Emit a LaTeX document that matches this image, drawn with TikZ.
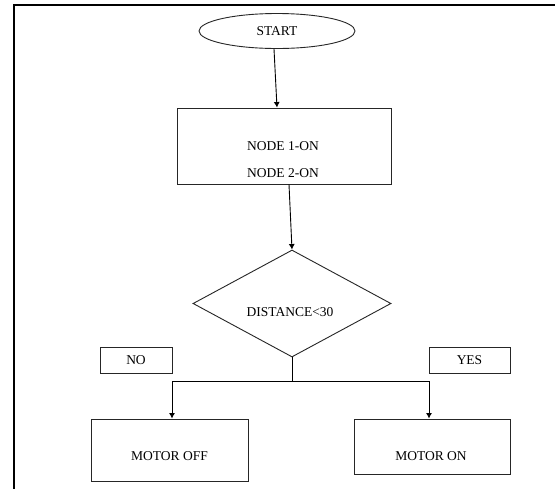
\documentclass[tikz,border=0pt]{standalone}
\usepackage{fontspec}
\setmainfont{Liberation Serif}
\usetikzlibrary{shapes.geometric,arrows.meta}
\begin{document}
\begin{tikzpicture}[x=1pt,y=-1pt,
  shp/.style={draw=black!85,line width=0.9pt,inner sep=0pt},
  box/.style={shp,rectangle},
  txt/.style={font=\fontsize{13.5}{27}\selectfont,inner sep=0pt,align=center},
  arr/.style={draw=black,line width=0.9pt,-{Latex[length=5.5pt,width=6pt]}},
  ln/.style={draw=black,line width=0.9pt}]
\useasboundingbox (0,0) rectangle (555,488);
\clip (0,0) rectangle (555,488);
\fill[white] (0,0) rectangle (555,488);
\draw[line width=1.8pt] (14,600) -- (14,5) -- (700,5);
% start
\node[shp,ellipse,minimum width=156pt,minimum height=35pt,txt] (st) at (277,31) {START};
% node box
\node[box,minimum width=214pt,minimum height=76pt] (n1) at (284,146) {};
\node[txt] (n1t) at (283,160) {NODE 1-ON\\NODE 2-ON};
% diamond
\node[shp,diamond,minimum width=198pt,minimum height=107pt] (d) at (292,303.5) {};
\node[txt] (dt) at (290,312) {DISTANCE<30};
% labels
\node[box,minimum width=72pt,minimum height=26pt,txt] (no) at (136,360) {NO};
\node[box,minimum width=81pt,minimum height=26pt,txt] (yes) at (469.5,360) {YES};
% outputs
\node[box,minimum width=157pt,minimum height=62pt] (off) at (169.5,450) {};
\node[txt] (offt) at (169.5,456) {MOTOR OFF};
\node[box,minimum width=156pt,minimum height=55pt] (on) at (432,446.5) {};
\node[txt] (ont) at (431,456) {MOTOR ON};
% connectors
\draw[arr] ([xshift=-3pt]st.south) -- ([xshift=-7pt]n1.north);
\draw[arr] ([xshift=5pt]n1.south) -- (d.north);
\coordinate (j) at (292,381);
\draw[ln] (d.south) -- (j);
\draw[arr] (j) -| ([xshift=2.5pt]off.north);
\draw[arr] (j) -| ([xshift=-3pt]on.north);
\end{tikzpicture}
\end{document}
